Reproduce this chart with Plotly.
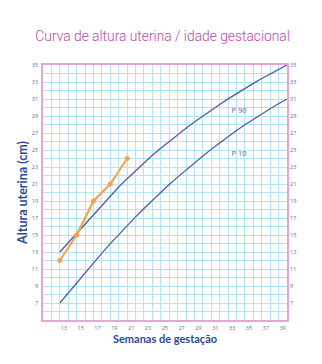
import plotly.graph_objects as go

weeks = list(range(13, 41))
p90 = [13.00, 14.10, 15.20, 16.30, 17.40, 18.50, 19.60, 20.65, 21.63, 22.58, 23.50, 24.38,
       25.22, 26.03, 26.81, 27.56, 28.29, 29.00, 29.69, 30.36, 31.01, 31.64, 32.25, 32.84,
       33.41, 33.96, 34.49, 35.00]
p10 = [7.00, 8.20, 9.39, 10.57, 11.73, 12.87, 13.98, 15.06, 16.11, 17.13, 18.12, 19.08,
       20.02, 20.93, 21.81, 22.67, 23.50, 24.30, 25.08, 25.84, 26.58, 27.29, 27.98, 28.63,
       29.26, 29.86, 30.44, 31.00]
patient_weeks = [13, 15, 17, 19, 21]
patient_height = [12, 15, 19, 21, 24]

x_ticks = list(range(13, 40, 2))
y_ticks = list(range(7, 36, 2))
curve_labels = ["P 90", "P 10"]
label_pos_x = [34.3, 34.3]
label_pos_y = [29.6, 24.5]

BLUE = "#4a5ea8"
ORANGE = "#f7a24c"
GRID = "#b2e4f3"
BORDER = "#e2a6d8"
TICKC = "#5a6aa8"
DARK = "#2b4796"

fig = go.Figure()
fig.add_trace(go.Scatter(x=weeks, y=p90, mode="lines", line=dict(color=BLUE, width=1.3),
                         showlegend=False, hoverinfo="skip"))
fig.add_trace(go.Scatter(x=weeks, y=p10, mode="lines", line=dict(color=BLUE, width=1.3),
                         showlegend=False, hoverinfo="skip"))
fig.add_trace(go.Scatter(x=patient_weeks, y=patient_height, mode="lines+markers",
                         line=dict(color=ORANGE, width=2.2),
                         marker=dict(color=ORANGE, size=5), showlegend=False))
# invisible trace to activate right axis
fig.add_trace(go.Scatter(x=[weeks[0]], y=[p10[0]], yaxis="y2", mode="markers",
                         marker=dict(opacity=0), showlegend=False, hoverinfo="skip"))
fig.add_trace(go.Scatter(x=label_pos_x, y=label_pos_y, mode="text", text=curve_labels,
                         textfont=dict(family="Open Sans", size=7.5, color="#5a6a9a"),
                         showlegend=False, hoverinfo="skip"))

tickfont = dict(family="Open Sans", size=5.5, color=TICKC)

fig.update_layout(
    width=322, height=364,
    margin=dict(l=43, r=35, t=65, b=44, autoexpand=False),
    paper_bgcolor="white", plot_bgcolor="white",
    title=dict(text="Curva de altura uterina / idade gestacional",
               font=dict(family="Roboto", size=13.8, color="#b84aa6", weight=300),
               x=0.505, xanchor="center", y=0.9, yanchor="middle"),
    xaxis=dict(range=[11, 40], tickvals=x_ticks, ticktext=[str(v) for v in x_ticks],
               tickfont=tickfont, ticks="", ticklabelshift=4, ticklabelstandoff=2,
               showgrid=True, gridcolor=GRID, gridwidth=1,
               minor=dict(dtick=1, tick0=11, showgrid=True, gridcolor=GRID, gridwidth=1),
               showline=True, linecolor=BORDER, linewidth=1.5, mirror=True, zeroline=False,
               title=dict(text="Semanas de gestação", standoff=4,
                          font=dict(family="Lato", size=11, color=DARK, weight="bold"))),
    yaxis=dict(range=[5, 35], tickvals=y_ticks, tickfont=tickfont, ticks="",
               ticklabelstandoff=2,
               showgrid=True, gridcolor=GRID, gridwidth=1,
               minor=dict(dtick=1, tick0=5, showgrid=True, gridcolor=GRID, gridwidth=1),
               showline=True, linecolor=BORDER, linewidth=1.5, mirror=True, zeroline=False,
               title=dict(text="Altura uterina (cm)", standoff=1,
                          font=dict(family="Lato", size=12.5, color=DARK, weight="bold"))),
    yaxis2=dict(range=[5, 35], tickvals=y_ticks, tickfont=tickfont, ticks="",
                overlaying="y", side="right", showgrid=False, zeroline=False,
                showline=False, ticklabelstandoff=2),
)

fig.write_html("out.html")
